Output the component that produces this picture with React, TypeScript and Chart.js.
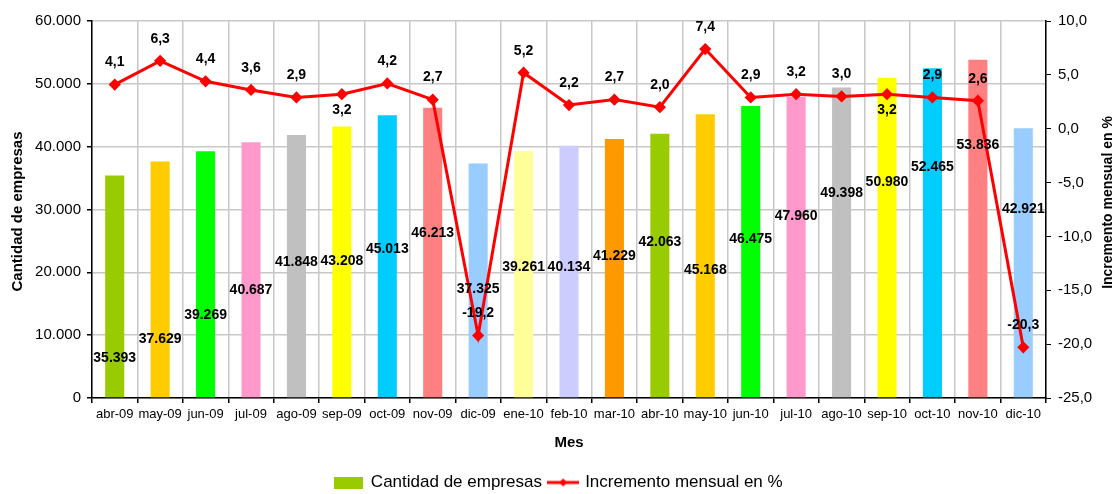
import React, { useEffect, useRef } from "react";
import { Chart, registerables } from "chart.js";

Chart.register(...registerables);

const months = [
  "abr-09", "may-09", "jun-09", "jul-09", "ago-09", "sep-09", "oct-09", "nov-09", "dic-09",
  "ene-10", "feb-10", "mar-10", "abr-10", "may-10", "jun-10", "jul-10", "ago-10", "sep-10",
  "oct-10", "nov-10", "dic-10",
];

const companies = [
  35393, 37629, 39269, 40687, 41848, 43208, 45013, 46213, 37325,
  39261, 40134, 41229, 42063, 45168, 46475, 47960, 49398, 50980,
  52465, 53836, 42921,
];

const monthlyIncrease = [
  4.1, 6.3, 4.4, 3.6, 2.9, 3.2, 4.2, 2.7, -19.2,
  5.2, 2.2, 2.7, 2.0, 7.4, 2.9, 3.2, 3.0, 3.2,
  2.9, 2.6, -20.3,
];

// where (in "Cantidad de empresas" units) each bar's value label sits in the original
const barLabelAnchor = [
  6350, 9390, 13230, 17230, 21550, 21710, 23630, 26190, 17390,
  20750, 20750, 22510, 24750, 20270, 25230, 28910, 32590, 34350,
  36750, 40270, 30030,
];

const barColors = [
  "#99CC00", "#FFCC00", "#00FF00", "#FF99CC", "#C0C0C0", "#FFFF00", "#00CCFF", "#FF8080", "#99CCFF",
  "#FFFF99", "#CCCCFF", "#FF9900", "#99CC00", "#FFCC00", "#00FF00", "#FF99CC", "#C0C0C0", "#FFFF00",
  "#00CCFF", "#FF8080", "#99CCFF",
];

const seriesNames = ["Cantidad de empresas", "Incremento mensual en %"];
const axisTitles = { x: "Mes", left: "Cantidad de empresas", right: "Incremento mensual en %" };

const FONT = "'Liberation Sans', Arial, Helvetica, sans-serif";

const fmtThousands = (v: number) =>
  Math.round(v).toString().replace(/\B(?=(\d{3})+(?!\d))/g, ".");
const fmtPct = (v: number) => v.toFixed(1).replace(".", ",");

const lineLabelsBelow = new Set([5, 17]);

const labelPlugin = {
  id: "valueLabels",
  afterDatasetsDraw(chart: any) {
    const ctx = chart.ctx;
    const barMeta = chart.getDatasetMeta(0);
    const lineMeta = chart.getDatasetMeta(1);
    const yScale = chart.scales.y;
    ctx.save();
    ctx.fillStyle = "#000";
    ctx.font = `bold 14px ${FONT}`;
    ctx.textAlign = "center";
    ctx.textBaseline = "middle";
    barMeta.data.forEach((bar: any, i: number) => {
      ctx.fillText(fmtThousands(companies[i]), bar.x, yScale.getPixelForValue(barLabelAnchor[i]));
    });
    lineMeta.data.forEach((pt: any, i: number) => {
      const dy = lineLabelsBelow.has(i) ? 16 : -22;
      ctx.fillText(fmtPct(monthlyIncrease[i]), pt.x, pt.y + dy);
    });
    ctx.restore();
  },
  afterDraw(chart: any) {
    const ctx = chart.ctx;
    const area = chart.chartArea;
    const midY = (area.top + area.bottom) / 2;
    ctx.save();
    ctx.fillStyle = "#000";
    ctx.font = `bold 15px ${FONT}`;
    ctx.textAlign = "center";
    ctx.textBaseline = "middle";
    ctx.translate(18, midY + 2);
    ctx.rotate(-Math.PI / 2);
    ctx.fillText(axisTitles.left, 0, 0);
    ctx.restore();
    ctx.save();
    ctx.fillStyle = "#000";
    ctx.font = `bold 14px ${FONT}`;
    ctx.textAlign = "center";
    ctx.textBaseline = "middle";
    ctx.translate(1108, midY - 7);
    ctx.rotate(-Math.PI / 2);
    ctx.fillText(axisTitles.right, 0, 0);
    ctx.restore();
  },
};

function makeBarLegendIcon() {
  const c = document.createElement("canvas");
  c.width = 29;
  c.height = 12;
  const g = c.getContext("2d")!;
  g.fillStyle = barColors[0];
  g.fillRect(0, 0, 29, 12);
  return c;
}

function makeLineLegendIcon() {
  const c = document.createElement("canvas");
  c.width = 32;
  c.height = 12;
  const g = c.getContext("2d")!;
  g.strokeStyle = "#FF0000";
  g.lineWidth = 3;
  g.beginPath();
  g.moveTo(0, 6);
  g.lineTo(32, 6);
  g.stroke();
  g.fillStyle = "#FF0000";
  g.beginPath();
  g.moveTo(16, 2);
  g.lineTo(20, 6);
  g.lineTo(16, 10);
  g.lineTo(12, 6);
  g.closePath();
  g.fill();
  return c;
}

export default function App() {
  const canvasRef = useRef<HTMLCanvasElement | null>(null);

  useEffect(() => {
    if (!canvasRef.current) return;
    const barIcon = makeBarLegendIcon();
    const lineIcon = makeLineLegendIcon();

    const chart = new Chart(canvasRef.current, {
      type: "bar",
      data: {
        labels: months,
        datasets: [
          {
            type: "bar",
            label: seriesNames[0],
            data: companies,
            backgroundColor: barColors,
            borderWidth: 0,
            yAxisID: "y",
            order: 2,
            barPercentage: 0.42,
            categoryPercentage: 1,
          } as any,
          {
            type: "line",
            label: seriesNames[1],
            data: monthlyIncrease,
            borderColor: "#FF0000",
            backgroundColor: "#FF0000",
            borderWidth: 3,
            pointStyle: "rectRot",
            pointRadius: 4,
            pointBackgroundColor: "#FF0000",
            pointBorderColor: "#FF0000",
            tension: 0,
            yAxisID: "y1",
            order: 1,
          } as any,
        ],
      },
      options: {
        responsive: false,
        animation: false,
        devicePixelRatio: 1,
        layout: { padding: { top: 21, left: 0, right: 0, bottom: -7 } },
        font: { family: FONT },
        plugins: {
          tooltip: { enabled: false },
          legend: {
            position: "bottom",
            labels: {
              usePointStyle: true,
              pointStyleWidth: 27,
              boxHeight: 12,
              padding: 3,
              color: "#000",
              font: { family: FONT, size: 17 },
              generateLabels: () => [
                {
                  text: seriesNames[0] + "\u00A0",
                  fillStyle: barColors[0],
                  strokeStyle: barColors[0],
                  lineWidth: 0,
                  hidden: false,
                  datasetIndex: 0,
                  pointStyle: barIcon,
                } as any,
                {
                  text: seriesNames[1],
                  fillStyle: "#FF0000",
                  strokeStyle: "#FF0000",
                  lineWidth: 0,
                  hidden: false,
                  datasetIndex: 1,
                  pointStyle: lineIcon,
                } as any,
              ],
            },
          },
        },
        scales: {
          x: {
            offset: true,
            grid: {
              offset: true,
              color: "#C8C8C8",
              lineWidth: 1.5,
              tickColor: "#000",
              tickLength: 5,
            },
            border: { color: "#000", width: 1.5 },
            ticks: {
              color: "#000",
              font: { family: FONT, size: 13 },
              maxRotation: 0,
              autoSkip: false,
              padding: 4,
            },
            title: {
              display: true,
              text: axisTitles.x,
              color: "#000",
              font: { family: FONT, size: 15, weight: "bold" },
              padding: { top: 4, bottom: 19 },
            },
            afterFit: (scale: any) => {
              scale.height = 73;
            },
          },
          y: {
            position: "left",
            min: 0,
            max: 60000,
            ticks: {
              stepSize: 10000,
              color: "#000",
              font: { family: FONT, size: 15 },
              padding: 6,
              callback: (v: any) => fmtThousands(Number(v)),
            },
            grid: {
              color: "#C8C8C8",
              lineWidth: 1.5,
              tickColor: "#000",
              tickLength: 5,
            },
            border: { color: "#000", width: 1.5 },
            afterFit: (scale: any) => {
              scale.width = 92;
            },
          },
          y1: {
            position: "right",
            min: -25,
            max: 10,
            ticks: {
              stepSize: 5,
              color: "#000",
              font: { family: FONT, size: 15 },
              padding: 7,
              callback: (v: any) => fmtPct(Number(v)),
            },
            grid: {
              drawOnChartArea: false,
              tickColor: "#000",
              tickLength: 5,
            },
            border: { color: "#000", width: 1.5 },
            afterFit: (scale: any) => {
              scale.width = 72;
            },
          },
        },
      } as any,
      plugins: [labelPlugin],
    });

    return () => chart.destroy();
  }, []);

  return (
    <div style={{ position: "absolute", left: 0, top: 0, width: 1118, height: 494, background: "#fff" }}>
      <canvas ref={canvasRef} width={1118} height={494} style={{ display: "block" }} />
    </div>
  );
}
